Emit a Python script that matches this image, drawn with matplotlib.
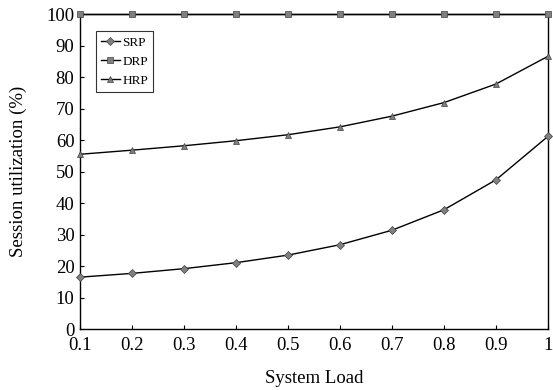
import matplotlib
matplotlib.use("Agg")
import matplotlib.pyplot as plt

plt.rcParams['font.family'] = ['Liberation Serif', 'DejaVu Serif']

load = [0.1, 0.2, 0.3, 0.4, 0.5, 0.6, 0.7, 0.8, 0.9, 1.0]
srp = [16.5, 17.7, 19.2, 21.1, 23.5, 26.8, 31.4, 37.9, 47.4, 61.2]
drp = [100, 100, 100, 100, 100, 100, 100, 100, 100, 100]
hrp = [55.5, 56.8, 58.2, 59.8, 61.7, 64.2, 67.6, 71.9, 77.8, 86.6]
xticks = [0.1, 0.2, 0.3, 0.4, 0.5, 0.6, 0.7, 0.8, 0.9, 1.0]
xticklabels = ['0.1', '0.2', '0.3', '0.4', '0.5', '0.6', '0.7', '0.8', '0.9', '1']

fig = plt.figure(figsize=(5.53, 3.9), dpi=100)
ax = fig.add_axes([0.1447, 0.156, 0.8463, 0.808])

mk = dict(color='black', lw=1.0, markerfacecolor='#808080', markeredgecolor='#404040',
          markeredgewidth=0.5, clip_on=False, zorder=3)
ax.plot(load, srp, marker='D', markersize=4.2, label='SRP', **mk)
ax.plot(load, drp, marker='s', markersize=5, label='DRP', **mk)
ax.plot(load, hrp, marker='^', markersize=5, label='HRP', **mk)

ax.set_xlim(0.1, 1.0)
ax.set_ylim(0, 100)
ax.set_xticks(xticks)
ax.set_xticklabels(xticklabels)
ax.set_yticks(range(0, 101, 10))
ax.tick_params(direction='in', length=3, width=0.8, labelsize=13.5)
ax.tick_params(axis='x', pad=6)
ax.tick_params(axis='y', pad=4)
ax.set_xlabel('System Load', fontsize=13.5, labelpad=11)
ax.set_ylabel('Session utilization (%)', fontsize=13.5, labelpad=14)
for s in ax.spines.values():
    s.set_linewidth(1.0)

leg = ax.legend(loc='upper left', bbox_to_anchor=(0.034, 0.945), fontsize=9.5,
                frameon=True, fancybox=False, edgecolor='black', handlelength=1.4,
                handletextpad=0.2, borderpad=0.4, labelspacing=0.5, borderaxespad=0)
leg.get_frame().set_linewidth(0.8)

fig.savefig('out.png', dpi=100)
